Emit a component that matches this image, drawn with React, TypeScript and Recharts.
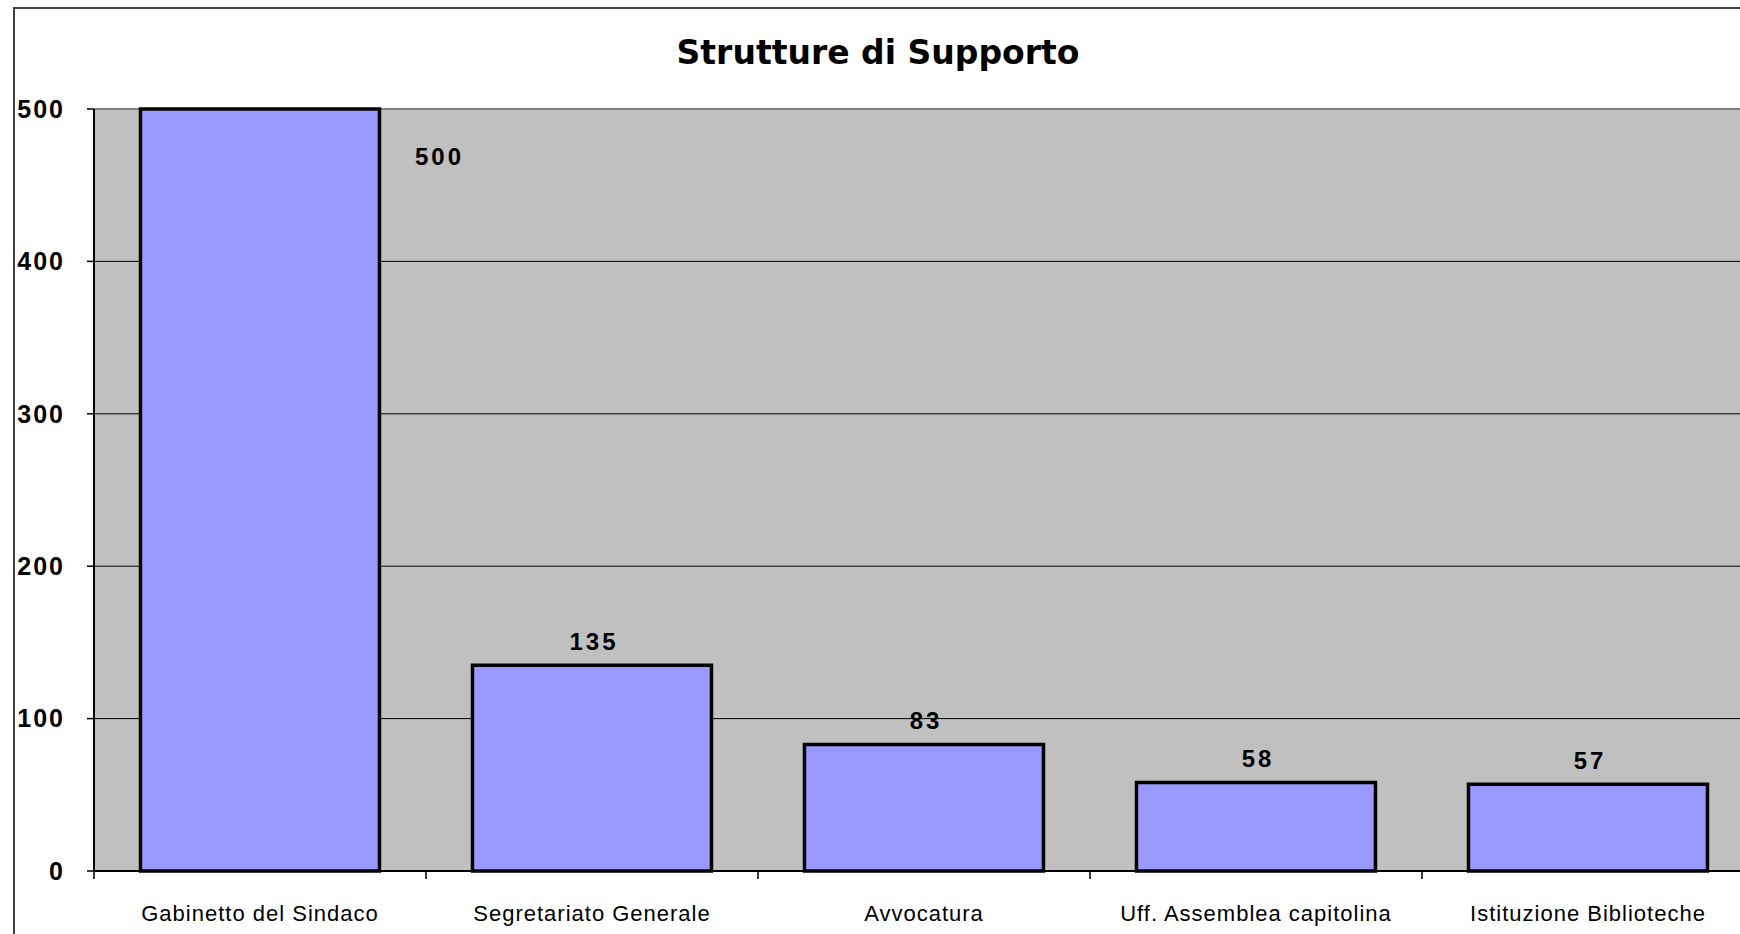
import { BarChart, Bar, XAxis, YAxis, CartesianGrid, LabelList } from "recharts"

const CATEGORIES = [
    "Gabinetto del Sindaco",
    "Segretariato Generale",
    "Avvocatura",
    "Uff. Assemblea capitolina",
    "Istituzione Biblioteche",
]
const VALUES = [500, 135, 83, 58, 57]
const Y_TICKS = [0, 100, 200, 300, 400, 500]

const data = CATEGORIES.map((name, i) => ({ name, value: VALUES[i] }))
const MAX = Math.max(...VALUES)

const W = 1780
const H = 960
const MARGIN = { top: 109, right: 26, bottom: 29, left: 34 }

const NUM_FONT = "'Liberation Sans', Arial, sans-serif"
const CAT_FONT = "'Liberation Sans Narrow', 'Liberation Sans', Arial, sans-serif"

const CategoryTick = (props: any) => {
    const { x, y, payload } = props
    const half = payload?.offset ?? 166
    return (
        <g>
            <line x1={x - half} y1={y} x2={x - half} y2={y + 8} stroke="#000" strokeWidth={1.5} />
            <text
                x={x}
                y={y + 42}
                textAnchor="middle"
                dominantBaseline="central"
                fill="#000"
                fontSize={22}
                fontFamily={CAT_FONT}
                letterSpacing={1}
            >
                {payload.value}
            </text>
        </g>
    )
}

const renderLabel = (props: any) => {
    const { x, y, width, value } = props
    // the tallest bar touches the top of the plot, so its label sits to the right
    const isMax = value === MAX
    return (
        <text
            x={isMax ? x + width + 60 : x + width / 2 + 2}
            y={isMax ? y + 47 : y - 24}
            textAnchor="middle"
            dominantBaseline="central"
            fill="#000"
            fontSize={24}
            fontWeight="bold"
            fontFamily={NUM_FONT}
            letterSpacing={3}
        >
            {value}
        </text>
    )
}

export default function App() {
    return (
        <div
            style={{
                position: "fixed",
                left: 0,
                top: 0,
                width: 1740,
                height: 934,
                overflow: "hidden",
                background: "#fff",
            }}
        >
            <div
                style={{
                    position: "absolute",
                    left: 13,
                    top: 7,
                    width: 2000,
                    height: 2000,
                    border: "2px solid #404040",
                }}
            />
            <div
                style={{
                    position: "absolute",
                    left: 578,
                    top: 32,
                    width: 600,
                    textAlign: "center",
                    fontFamily: "'DejaVu Sans', Verdana, sans-serif",
                    fontWeight: "bold",
                    fontSize: 33,
                    lineHeight: "42px",
                    color: "#000",
                }}
            >
                Strutture di Supporto
            </div>
            <div style={{ position: "absolute", left: 0, top: 0 }}>
                <BarChart width={W} height={H} data={data} margin={MARGIN} barCategoryGap="14%">
                    <CartesianGrid
                        vertical={false}
                        fill="#C0C0C0"
                        fillOpacity={1}
                        horizontal={(p: any) => (
                            <line
                                key={p.key}
                                x1={p.x1}
                                y1={p.y1}
                                x2={p.x2}
                                y2={p.y2}
                                stroke={p.y1 <= MARGIN.top + 1 ? "#808080" : "#000"}
                                strokeWidth={p.y1 <= MARGIN.top + 1 ? 2 : 1}
                            />
                        )}
                    />
                    <XAxis
                        dataKey="name"
                        height={60}
                        tickLine={false}
                        tickSize={0}
                        tickMargin={0}
                        interval={0}
                        axisLine={{ stroke: "#000", strokeWidth: 2 }}
                        tick={<CategoryTick />}
                    />
                    <YAxis
                        width={60}
                        domain={[0, 500]}
                        ticks={Y_TICKS}
                        interval={0}
                        tickSize={7}
                        tickMargin={22}
                        axisLine={{ stroke: "#000", strokeWidth: 2 }}
                        tickLine={{ stroke: "#000", strokeWidth: 1.5 }}
                        tick={{
                            fill: "#000",
                            fontSize: 25,
                            fontWeight: "bold",
                            fontFamily: NUM_FONT,
                            letterSpacing: 2,
                        }}
                    />
                    <Bar
                        dataKey="value"
                        fill="#9999FF"
                        stroke="#000"
                        strokeWidth={3.5}
                        isAnimationActive={false}
                    >
                        <LabelList dataKey="value" content={renderLabel} />
                    </Bar>
                </BarChart>
            </div>
        </div>
    )
}
